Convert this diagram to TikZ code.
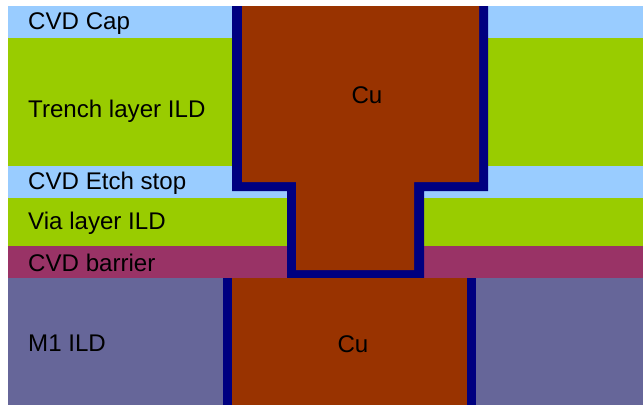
\documentclass[tikz,border=0pt]{standalone}
\usepackage{fontspec}
\setmainfont{Liberation Sans}
\definecolor{capblue}{HTML}{99CCFF}
\definecolor{ildgreen}{HTML}{99CC00}
\definecolor{barrierred}{HTML}{993366}
\definecolor{mildblue}{HTML}{666699}
\definecolor{cubrown}{HTML}{993300}
\definecolor{linernavy}{HTML}{000080}
\tikzstyle{every node}=[font=\fontsize{24.1}{26}\selectfont, inner sep=0pt, text=black]
\tikzstyle{layer}=[anchor=west]
\begin{document}
\begin{tikzpicture}[x=1pt, y=-1pt]
  \useasboundingbox (0,0) rectangle (643,405);

  \fill[capblue]    (8,6)   rectangle (643,38);
  \fill[ildgreen]   (8,38)  rectangle (643,166);
  \fill[capblue]    (8,166) rectangle (643,198);
  \fill[ildgreen]   (8,198) rectangle (643,246);
  \fill[barrierred] (8,246) rectangle (643,278);
  \fill[mildblue]   (8,278) rectangle (643,405);

  \fill[linernavy] (232,6) -- (232,191) -- (287,191) -- (287,278) -- (424,278) -- (424,191) -- (488,191) -- (488,6) -- cycle;
  \fill[cubrown] (242,6) -- (242,182) -- (296,182) -- (296,270) -- (414,270) -- (414,182) -- (479,182) -- (479,6) -- cycle;
  \fill[linernavy] (223,278) rectangle (476,405);
  \fill[cubrown] (232,278) rectangle (467,405);

  \node[layer] (cap)    at (28,24)  {CVD Cap};
  \node[layer] (trench) at (28,111) {Trench layer ILD};
  \node[layer] (etch)   at (28,183) {CVD Etch stop};
  \node[layer] (via)    at (28,223) {Via layer ILD};
  \node[layer] (barr)   at (28,263) {CVD barrier};
  \node[layer] (mone)   at (28,343) {M1 ILD};
  \node (cutop) at (367,95)  {Cu};
  \node (cubot) at (353,344) {Cu};
\end{tikzpicture}
\end{document}
